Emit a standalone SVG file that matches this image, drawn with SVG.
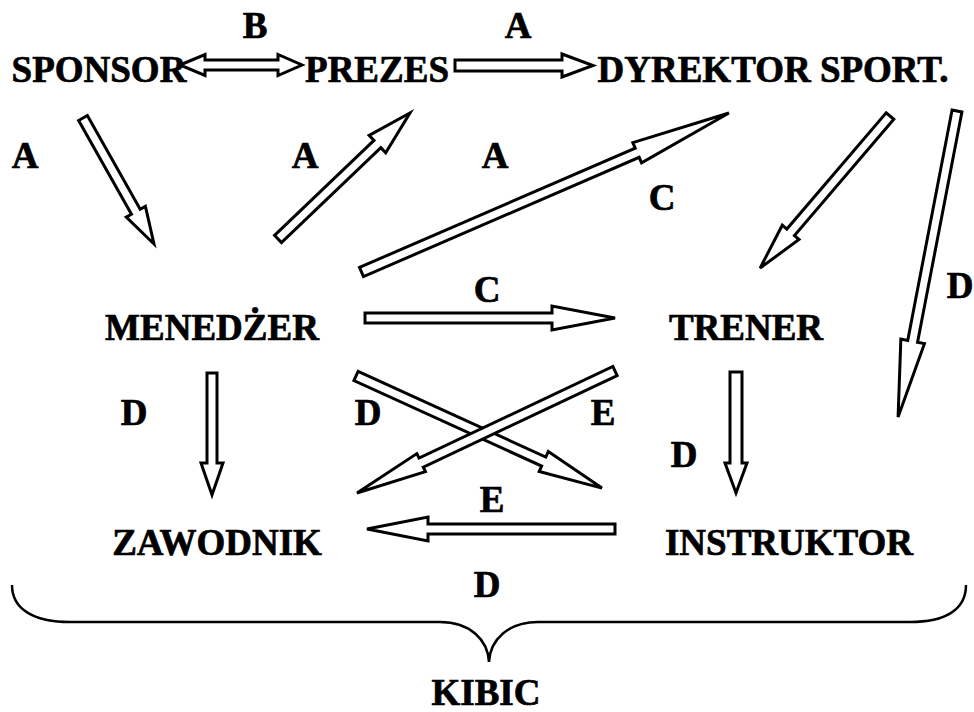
<svg xmlns="http://www.w3.org/2000/svg" width="974" height="712" viewBox="0 0 974 712">
<style>
text{font-family:"Liberation Serif","Times New Roman",serif;font-weight:bold;fill:#000;stroke:#000;stroke-width:0.7;text-anchor:middle}
.n{font-size:37px}
.l{font-size:37px}
.ar{fill:#fff;stroke:#000;stroke-width:3;stroke-linejoin:miter}
.br{fill:none;stroke:#000;stroke-width:2.5}
</style>
<rect width="974" height="712" fill="#fff"/>
<g id="connectors">
<path class="ar" transform="translate(83,118) rotate(60.6)" d="M0,-5 L107.6,-5 L107.6,-11 L144.6,0 L107.6,11 L107.6,5 L0,5 Z"/>
<path class="ar" transform="translate(278,239) rotate(-43.7)" d="M0,-5 L137.5,-5 L137.5,-12 L182.5,0 L137.5,12 L137.5,5 L0,5 Z"/>
<path class="ar" transform="translate(361.5,272) rotate(-23.4)" d="M0,-5 L300.4,-5 L300.4,-11 L400.4,0 L300.4,11 L300.4,5 L0,5 Z"/>
<path class="ar" transform="translate(890,116) rotate(130.5)" d="M0,-5 L153,-5 L153,-11 L200,0 L153,11 L153,5 L0,5 Z"/>
<path class="ar" transform="translate(957,111) rotate(100.9)" d="M0,-5 L234.6,-5 L234.6,-12 L311.6,0 L234.6,12 L234.6,5 L0,5 Z"/>
<path class="ar" transform="translate(365,318) rotate(0)" d="M0,-5 L187,-5 L187,-12 L250,0 L187,12 L187,5 L0,5 Z"/>
<path class="ar" transform="translate(212,373) rotate(90)" d="M0,-5 L90,-5 L90,-11 L122,0 L90,11 L90,5 L0,5 Z"/>
<path class="ar" transform="translate(736,372) rotate(90)" d="M0,-6 L91,-6 L91,-11 L121,0 L91,11 L91,6 L0,6 Z"/>
<path class="ar" transform="translate(356,376) rotate(24.5)" d="M0,-5 L206.3,-5 L206.3,-11 L270.3,0 L206.3,11 L206.3,5 L0,5 Z"/>
<path class="ar" transform="translate(615,371) rotate(154.7)" d="M0,-5 L214.4,-5 L214.4,-10 L285.4,0 L214.4,10 L214.4,5 L0,5 Z"/>
<path class="ar" transform="translate(615,529) rotate(180)" d="M0,-5 L187,-5 L187,-12 L248,0 L187,12 L187,5 L0,5 Z"/>
<path class="ar" d="M180,65 L205,54.5 L205,60 L278,60 L278,54.5 L302,65 L278,75.5 L278,70 L205,70 L205,75.5 Z"/>
<path class="ar" d="M455,60 L562,60 L562,54 L593,65.5 L562,77 L562,71 L455,71 Z"/>
<path class="br" d="M12,585 C12,610 35,622 70,622 L440,622 C470,622 488,640 489,662 C490,640 508,622 538,622 L910,622 C945,622 966,610 966,585"/>
</g>
<g id="labels">
<text class="l" x="255" y="38">B</text>
<text class="l" x="518" y="38">A</text>
<text class="l" x="25" y="168">A</text>
<text class="l" x="305" y="168">A</text>
<text class="l" x="495" y="168">A</text>
<text class="l" x="662" y="210">C</text>
<text class="l" x="487" y="302">C</text>
<text class="l" x="960" y="298">D</text>
<text class="l" x="134" y="425">D</text>
<text class="l" x="368" y="425">D</text>
<text class="l" x="603" y="425">E</text>
<text class="l" x="684" y="467">D</text>
<text class="l" x="492" y="512">E</text>
<text class="l" x="487" y="597">D</text>
</g>
<g id="sponsor"><text class="n" x="99" y="82">SPONSOR</text></g>
<g id="prezes"><text class="n" x="377" y="82">PREZES</text></g>
<g id="dyrektor"><text class="n" x="773" y="82">DYREKTOR SPORT.</text></g>
<g id="menedzer"><text class="n" x="212" y="340">MENEDŻER</text></g>
<g id="trener"><text class="n" x="746" y="340">TRENER</text></g>
<g id="zawodnik"><text class="n" x="217" y="555">ZAWODNIK</text></g>
<g id="instruktor"><text class="n" x="789" y="555">INSTRUKTOR</text></g>
<g id="kibic"><text class="n" x="486" y="705">KIBIC</text></g>
</svg>
